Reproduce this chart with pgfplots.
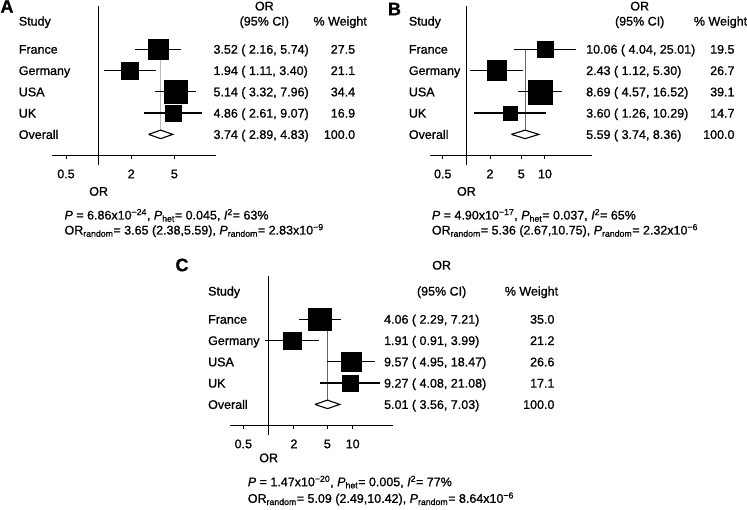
\documentclass[border=0pt]{standalone}
\usepackage{fontspec}
\setmainfont{Liberation Sans}[FakeBold=1.0]
\usepackage{pgfplots}
\pgfplotsset{compat=1.18}

\newcommand\Lx{0pt}\newcommand\Ox{0pt}\newcommand\Wx{0pt}
\newcommand\Cx{0pt}\newcommand\Px{0pt}
% row: #1 y, #2 label, #3 OR (CI), #4 weight
\newcommand\frow[4]{%
  \node[anchor=base west, inner sep=0pt, xshift=\Lx, yshift=-4.5pt] at (axis cs:1,#1) {#2};
  \node[anchor=base west, inner sep=0pt, xshift=\Ox, yshift=-4.5pt] at (axis cs:1,#1) {#3};
  \node[anchor=base east, inner sep=0pt, xshift=\Wx, yshift=-4.5pt] at (axis cs:1,#1) {#4};
}
\newcommand\fhead[1]{% #1 y of the "OR" line
  \node[anchor=base west, inner sep=0pt, xshift=\Lx, yshift=-4.5pt] at (axis cs:1,5.32) {Study};
  \node[anchor=base, inner sep=0pt, xshift=\Cx, yshift=-4.5pt] at (axis cs:1,5.32) {(95\% CI)};
  \node[anchor=base, inner sep=0pt, xshift=\Cx, yshift=-4.5pt] at (axis cs:1,#1) {OR};
  \node[anchor=base west, inner sep=0pt, xshift=\Px, yshift=-4.5pt] at (axis cs:1,5.32) {\% Weight};
}

\pgfplotsset{
  every axis/.append style={
    scale only axis, ymin=-1, ymax=6.05, height=150.2pt,
    axis x line*=bottom, axis y line=none, ytick=\empty,
    xminorticks=false,
    tick align=outside, major tick length=3pt,
    xtick style={line width=1pt, black},
    axis line style={line width=1.2pt, black},
    xticklabel style={anchor=base, yshift=-19.5pt, inner sep=0pt},
    clip=false, anchor=south west,
    font=\fontsize{12.5}{15}\selectfont,
  },
}

\begin{document}
\fontsize{12.5}{15}\selectfont
\begin{tikzpicture}
\useasboundingbox (0pt,0pt) rectangle (747pt,-510pt);

% ---------------- Panel A ----------------
\renewcommand\Lx{-80pt}\renewcommand\Ox{114.7pt}\renewcommand\Wx{256.7pt}
\renewcommand\Cx{165.7pt}\renewcommand\Px{214.7pt}
\begin{axis}[xmode=log, at={(51.7pt,-155.7pt)}, width=164.3pt, xmin=0.369, xmax=12.1,
  xtick={0.5,2,5}, xticklabels={0.5,2,5}]
\addplot[black, line width=1.5pt] coordinates {(1,-1.42) (1,6.05)};
\addplot[gray!55, line width=1pt] coordinates {(3.74,4) (3.74,0.2)};
\addplot[black, line width=1.2pt] coordinates {(2.16,4) (5.74,4)};
\addplot[black, line width=1.2pt] coordinates {(1.11,3) (3.40,3)};
\addplot[black, line width=1.2pt] coordinates {(3.32,2) (7.96,2)};
\addplot[black, line width=1.2pt] coordinates {(2.61,1) (9.07,1)};
\addplot[scatter, only marks, mark=square*,
    scatter/use mapped color={draw=black, fill=black},
    visualization depends on={\thisrow{w} \as \wt},
    scatter/@pre marker code/.append style={/tikz/mark size=1.94*sqrt(\wt)-0.2}]
  table[x=or, y=r, row sep=\\] {or r w\\ 3.52 4 27.5\\ 1.94 3 21.1\\ 5.14 2 34.4\\ 4.86 1 16.9\\};
\addplot[black, fill=white, line width=1.1pt] coordinates {(2.89,0) (3.74,0.2) (4.83,0) (3.74,-0.2) (2.89,0)};
\fhead{6.03}
\frow{4}{France}{3.52 ( 2.16, 5.74)}{27.5}
\frow{3}{Germany}{1.94 ( 1.11, 3.40)}{21.1}
\frow{2}{USA}{5.14 ( 3.32, 7.96)}{34.4}
\frow{1}{UK}{4.86 ( 2.61, 9.07)}{16.9}
\frow{0}{Overall}{3.74 ( 2.89, 4.83)}{100.0}
\node[anchor=base, inner sep=0pt, yshift=-40pt] at (axis cs:1,-1) {OR};
\node[anchor=base west, inner sep=0pt, xshift=-34.3pt, yshift=-63.8pt] at (axis cs:1,-1)
  {\textit{P} = 6.86x10\textsuperscript{−24}, \textit{P}\textsubscript{het}= 0.045, \textit{I}\textsuperscript{2}= 63\%};
\node[anchor=base west, inner sep=0pt, xshift=-34.3pt, yshift=-78.8pt] at (axis cs:1,-1)
  {OR\textsubscript{random}= 3.65 (2.38,5.59), \textit{P}\textsubscript{random}= 2.83x10\textsuperscript{−9}};
\end{axis}

% ---------------- Panel B ----------------
\renewcommand\Lx{-57.7pt}\renewcommand\Ox{119.6pt}\renewcommand\Wx{268.3pt}
\renewcommand\Cx{173.3pt}\renewcommand\Px{227.3pt}
\begin{axis}[xmode=log, at={(430pt,-155.7pt)}, width=161.7pt, xmin=0.344, xmax=39.4,
  xtick={0.5,2,5,10}, xticklabels={0.5,2,5,10}]
\addplot[black, line width=1.5pt] coordinates {(1,-1.42) (1,6.05)};
\addplot[gray!80!black, line width=0.7pt] coordinates {(5.59,4) (5.59,0.2)};
\addplot[black, line width=1.2pt] coordinates {(4.04,4) (25.01,4)};
\addplot[black, line width=1.2pt] coordinates {(1.12,3) (5.30,3)};
\addplot[black, line width=1.2pt] coordinates {(4.57,2) (16.52,2)};
\addplot[black, line width=1.2pt] coordinates {(1.26,1) (10.29,1)};
\addplot[scatter, only marks, mark=square*,
    scatter/use mapped color={draw=black, fill=black},
    visualization depends on={\thisrow{w} \as \wt},
    scatter/@pre marker code/.append style={/tikz/mark size=1.94*sqrt(\wt)-0.2}]
  table[x=or, y=r, row sep=\\] {or r w\\ 10.06 4 19.5\\ 2.43 3 26.7\\ 8.69 2 39.1\\ 3.60 1 14.7\\};
\addplot[black, fill=white, line width=1.1pt] coordinates {(3.74,0) (5.59,0.2) (8.36,0) (5.59,-0.2) (3.74,0)};
\fhead{6.03}
\frow{4}{France}{10.06 ( 4.04, 25.01)}{19.5}
\frow{3}{Germany}{2.43 ( 1.12, 5.30)}{26.7}
\frow{2}{USA}{8.69 ( 4.57, 16.52)}{39.1}
\frow{1}{UK}{3.60 ( 1.26, 10.29)}{14.7}
\frow{0}{Overall}{5.59 ( 3.74, 8.36)}{100.0}
\node[anchor=base, inner sep=0pt, yshift=-40pt] at (axis cs:1,-1) {OR};
\node[anchor=base west, inner sep=0pt, xshift=-34.7pt, yshift=-63.8pt] at (axis cs:1,-1)
  {\textit{P} = 4.90x10\textsuperscript{−17}, \textit{P}\textsubscript{het}= 0.037, \textit{I}\textsuperscript{2}= 65\%};
\node[anchor=base west, inner sep=0pt, xshift=-34.7pt, yshift=-78.8pt] at (axis cs:1,-1)
  {OR\textsubscript{random}= 5.36 (2.67,10.75), \textit{P}\textsubscript{random}= 2.32x10\textsuperscript{−6}};
\end{axis}

% ---------------- Panel C ----------------
\renewcommand\Lx{-60.7pt}\renewcommand\Ox{115.3pt}\renewcommand\Wx{286pt}
\renewcommand\Cx{173pt}\renewcommand\Px{236pt}
\begin{axis}[xmode=log, at={(230pt,-425.7pt)}, width=163.3pt, xmin=0.347, xmax=30.4,
  xtick={0.5,2,5,10}, xticklabels={0.5,2,5,10}]
\addplot[black, line width=1.5pt] coordinates {(1,-1.42) (1,6.05)};
\addplot[gray!80!black, line width=0.7pt] coordinates {(5.01,4) (5.01,0.2)};
\addplot[black, line width=1.2pt] coordinates {(2.29,4) (7.21,4)};
\addplot[black, line width=1.2pt] coordinates {(0.91,3) (3.99,3)};
\addplot[black, line width=1.2pt] coordinates {(4.95,2) (18.47,2)};
\addplot[black, line width=1.2pt] coordinates {(4.08,1) (21.08,1)};
\addplot[scatter, only marks, mark=square*,
    scatter/use mapped color={draw=black, fill=black},
    visualization depends on={\thisrow{w} \as \wt},
    scatter/@pre marker code/.append style={/tikz/mark size=1.94*sqrt(\wt)-0.2}]
  table[x=or, y=r, row sep=\\] {or r w\\ 4.06 4 35.0\\ 1.91 3 21.2\\ 9.57 2 26.6\\ 9.27 1 17.1\\};
\addplot[black, fill=white, line width=1.1pt] coordinates {(3.56,0) (5.01,0.2) (7.03,0) (5.01,-0.2) (3.56,0)};
\fhead{6.54}
\frow{4}{France}{4.06 ( 2.29, 7.21)}{35.0}
\frow{3}{Germany}{1.91 ( 0.91, 3.99)}{21.2}
\frow{2}{USA}{9.57 ( 4.95, 18.47)}{26.6}
\frow{1}{UK}{9.27 ( 4.08, 21.08)}{17.1}
\frow{0}{Overall}{5.01 ( 3.56, 7.03)}{100.0}
\node[anchor=base, inner sep=0pt, yshift=-36.5pt] at (axis cs:1,-1) {OR};
\node[anchor=base west, inner sep=0pt, xshift=-21pt, yshift=-60.5pt] at (axis cs:1,-1)
  {\textit{P} = 1.47x10\textsuperscript{−20}, \textit{P}\textsubscript{het}= 0.005, \textit{I}\textsuperscript{2}= 77\%};
\node[anchor=base west, inner sep=0pt, xshift=-21pt, yshift=-77.1pt] at (axis cs:1,-1)
  {OR\textsubscript{random}= 5.09 (2.49,10.42), \textit{P}\textsubscript{random}= 8.64x10\textsuperscript{−6}};
\end{axis}

% panel letters
\node[font=\fontsize{18}{18}\selectfont\bfseries, inner sep=0pt] at (7pt,-6.5pt) {A};
\node[font=\fontsize{18}{18}\selectfont\bfseries, inner sep=0pt] at (394.5pt,-9pt) {B};
\node[font=\fontsize{18}{18}\selectfont\bfseries, inner sep=0pt] at (182pt,-265pt) {C};
\end{tikzpicture}
\end{document}
